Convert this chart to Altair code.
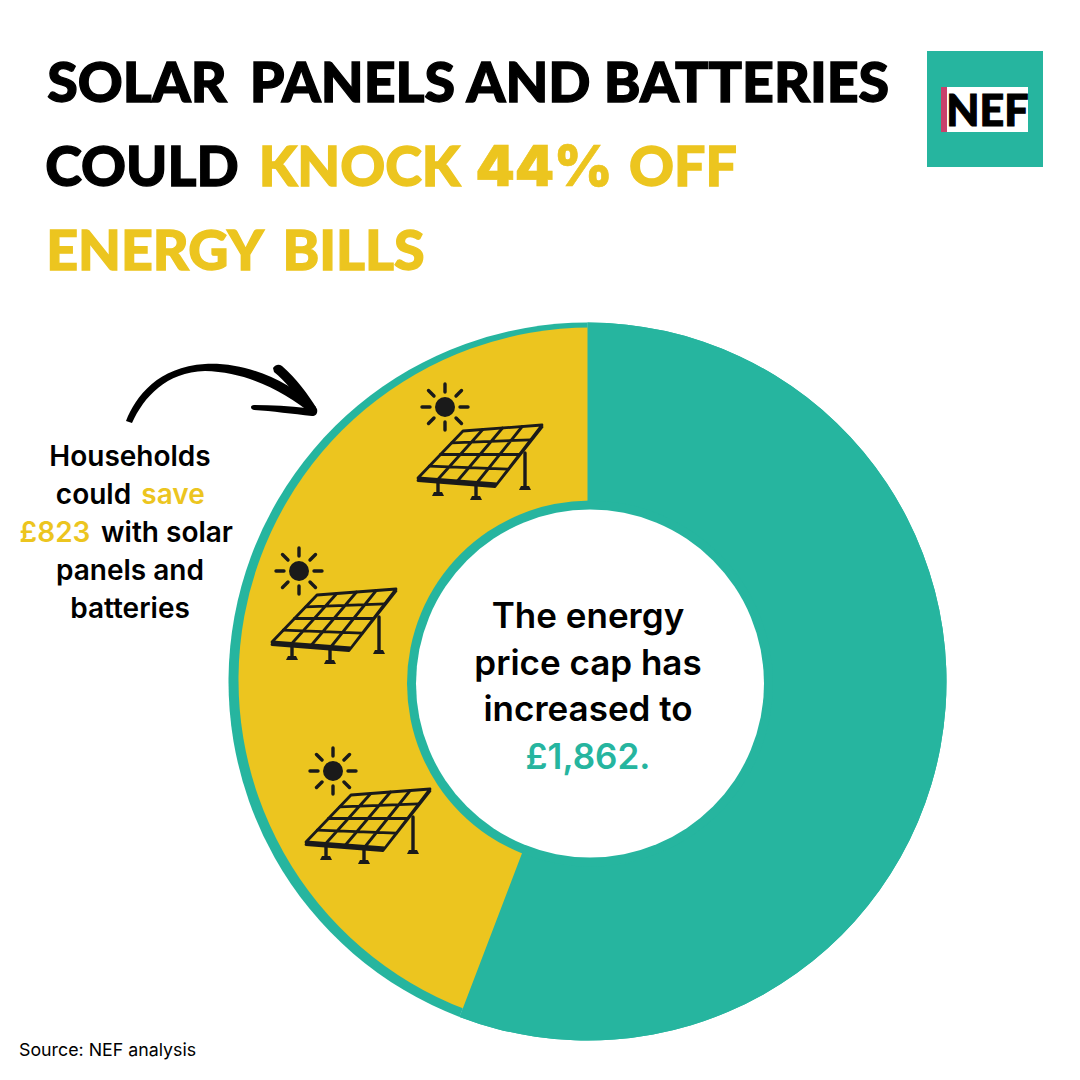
import altair as alt
import pandas as pd

OFF = 8  # page margin
GREEN = "#26B59F"
YELLOW = "#ECC51F"
BLACK = "#000000"
INK = "#1A1A1A"
PINK = "#C9416B"

# values
seg_names = ["Remaining bill", "Solar and battery saving"]
seg_values = [1039, 823]
total = sum(seg_values)

title_words = ["SOLAR", "PANELS", "AND", "BATTERIES", "COULD", "KNOCK", "OFF", "ENERGY", "BILLS"]
title_mid = [137, 352.5, 528.5, 746.5, 142, 359.5, 683, 155, 353.5]
title_base = [102, 102, 102, 102, 186, 186, 186, 270, 270]
title_col = [BLACK] * 5 + [YELLOW] * 4

side_text = ["Households", "could", "save", "£823", "with solar", "panels and", "batteries"]
side_mid = [130, 93.5, 173, 55, 167, 130, 130]
side_base = [466, 504, 504, 542, 542, 580, 618]
side_col = [BLACK, BLACK, YELLOW, YELLOW, BLACK, BLACK, BLACK]

mid_text = ["The energy", "price cap has", "increased to", "£1,862."]
mid_base = [628, 675, 721, 769]
mid_col = [BLACK, BLACK, BLACK, GREEN]

sun_x = [445, 299, 333]
sun_y = [407, 571, 771]


def P(x):
    return x - OFF


ends = [seg_values[0], total]
starts = [0, seg_values[0]]
seg = pd.DataFrame({"name": seg_names, "start": starts, "end": ends})
th = alt.Scale(domain=[0, total], range=[0, 6.283185307])


def arc(df, color, radius, cx, cy):
    return alt.Chart(df).mark_arc(radius=radius, color=color).encode(
        theta=alt.Theta("start:Q", scale=th),
        theta2="end:Q",
        x=alt.value(P(cx)),
        y=alt.value(P(cy)),
    )


def disc(color, radius, cx, cy):
    return alt.Chart(seg.head(1)).mark_arc(radius=radius, color=color, theta=0, theta2=6.2832).encode(
        x=alt.value(P(cx)), y=alt.value(P(cy))
    )


rim = arc(seg, GREEN, 359, 587.5, 681.5)
save_wedge = arc(seg.iloc[[1]], YELLOW, 352.5, 591, 680)
bill_wedge = arc(seg.iloc[[0]], GREEN, 359, 587.5, 681.5)
ring = disc(GREEN, 183, 590, 683.5)
hole = disc("#FFFFFF", 174, 590, 683.5)


def texts(txt, xs, ys, cols, font, weight, size, align, sw=0.0):
    df = pd.DataFrame({"t": txt, "x": [P(v) for v in xs], "y": [P(v) for v in ys], "c": cols})
    return alt.Chart(df).mark_text(
        font=font, fontWeight=weight, fontSize=size, align=align, baseline="alphabetic", strokeWidth=sw
    ).encode(
        x=alt.X("x:Q", scale=None, axis=None),
        y=alt.Y("y:Q", scale=None, axis=None),
        text="t:N",
        color=alt.Color("c:N", scale=None, legend=None),
        stroke=alt.Stroke("c:N", scale=None, legend=None),
    )


title = texts(title_words, title_mid, title_base, title_col, "Lato", 900, 55.5, "center", sw=1.3)
title_pct = texts(["44%"], [544], [186], [YELLOW], "Inter", 900, 56, "center", sw=0.6)
side = texts(side_text, side_mid, side_base, side_col, "Inter", 600, 28, "center")
mid = texts(mid_text, [588] * 4, mid_base, mid_col, "Inter", 600, 35, "center")
source = texts(["Source: NEF analysis"], [19], [1056], [BLACK], "Inter", 400, 17.8, "left")
nef = texts(["NEF"], [987.5], [126], [BLACK], "Lato", 900, 43, "center", sw=1.0)


def box(x0, x1, y0, y1, color):
    df = pd.DataFrame({"a": [P(x0)], "b": [P(x1)], "c": [P(y0)], "d": [P(y1)]})
    return alt.Chart(df).mark_rect(color=color).encode(
        x=alt.X("a:Q", scale=None, axis=None), x2="b:Q",
        y=alt.Y("c:Q", scale=None, axis=None), y2="d:Q",
    )


logo = box(927, 1043, 51, 167, GREEN) + box(947, 1028, 87, 132, "#FFFFFF") + box(941, 947, 87, 132, PINK)


# decorative glyphs, drawn in pixels relative to the anchor (size=4 gives unit scale)
def glyph(path, xs, ys, fill=None, stroke=None, sw=0.0):
    df = pd.DataFrame({"x": [P(v) for v in xs], "y": [P(v) for v in ys]})
    kw = dict(shape=path, size=4, strokeWidth=sw, opacity=1, strokeCap="round", strokeJoin="round")
    kw["filled"] = fill is not None
    if fill is not None:
        kw["fill"] = fill
    if stroke is not None:
        kw["stroke"] = stroke
    return alt.Chart(df).mark_point(**kw).encode(
        x=alt.X("x:Q", scale=None, axis=None),
        y=alt.Y("y:Q", scale=None, axis=None),
    )


arrow_body = (
    "M126 421 C136 396 158 367 205 364 C246 362 288 380 316 407 L313 415 "
    "C284 391 247 372 205 371 C166 372 144 397 132 423 Z"
)
arrow_head = (
    "M273 368 C276 364 279 364 282 366 C296 378 308 394 317 409 C318 413 316 416 312 416 "
    "C293 414 272 411 254 410 C250 409 250 405 254 405 C272 405 290 406 306 408 "
    "C296 394 285 381 274 372 Z"
)
arrow = glyph(arrow_body, [0], [0], fill=BLACK) + glyph(arrow_head, [0], [0], fill=BLACK)

# panel corners relative to sun centre
TL, TR, BR, BL = (18, 24), (97, 18), (52, 77), (-27, 71)


def lerp(a, b, t):
    return (a[0] + (b[0] - a[0]) * t, a[1] + (b[1] - a[1]) * t)


def seg_path(a, b):
    return f"M{a[0]:.1f} {a[1]:.1f} L{b[0]:.1f} {b[1]:.1f} "


grid = ""
for t in (0.25, 0.5, 0.75):
    grid += seg_path(lerp(TL, BL, t), lerp(TR, BR, t))
    grid += seg_path(lerp(TL, TR, t), lerp(BL, BR, t))
outline = (
    f"M{TL[0]} {TL[1]} L{TR[0]} {TR[1]} L{BR[0]} {BR[1]} L{BL[0]} {BL[1]} Z "
    f"M{BL[0]} {BL[1] + 2.5} L{BR[0] - 2} {BR[1] + 2.5} L{TR[0]} {TR[1] + 2} "
)
rays = (
    "M0 -15 L0 -23 M0 15 L0 23 M-15 0 L-23 0 M15 0 L23 0 "
    "M-11 -11 L-16.5 -16.5 M11 -11 L16.5 -16.5 M-11 11 L-16.5 16.5 M11 11 L16.5 16.5 "
)
legs = "M-7 75 L-7 87 M31 79 L31 91 M80 46 L80 81 "
feet = (
    "M-13 89 L-1 89 L-3 85 L-11 85 Z M25 93 L37 93 L35 89 L27 89 Z M74 83 L86 83 L84 79 L76 79 Z "
)
panel_g = glyph(grid, sun_x, sun_y, stroke=INK, sw=2.8)
panel_o = glyph(outline, sun_x, sun_y, stroke=INK, sw=2.8)
rays_g = glyph(rays, sun_x, sun_y, stroke=INK, sw=3.4)
legs_g = glyph(legs, sun_x, sun_y, stroke=INK, sw=3.4)
feet_g = glyph(feet, sun_x, sun_y, fill=INK)
sun_df = pd.DataFrame({"x": [P(v) for v in sun_x], "y": [P(v) for v in sun_y]})
sun_disc = alt.Chart(sun_df).mark_point(shape="circle", size=400, filled=True, fill=INK, opacity=1).encode(
    x=alt.X("x:Q", scale=None, axis=None), y=alt.Y("y:Q", scale=None, axis=None)
)

chart = alt.layer(
    rim, save_wedge, bill_wedge, ring, hole,
    logo, nef, title, title_pct, side, mid, source, arrow,
    rays_g, sun_disc, legs_g, feet_g, panel_o, panel_g,
).properties(width=1064, height=1064, padding=0, background="#FFFFFF").configure_view(stroke=None)

chart.save("out.html", embed_options={"renderer": "svg", "actions": False})
